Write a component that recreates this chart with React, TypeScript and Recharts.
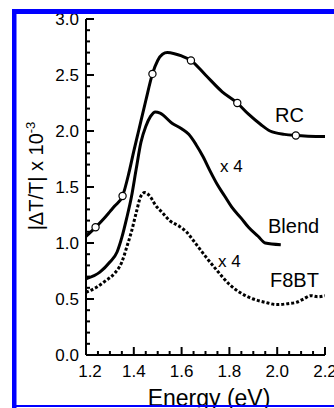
import { ComposedChart, Line, Scatter, XAxis, YAxis } from "recharts";

// energy (eV) / |dT/T| x 10^-3
const rcE = [1.2, 1.24, 1.28, 1.3, 1.32, 1.353, 1.38, 1.4, 1.42, 1.45, 1.478, 1.5, 1.52, 1.54, 1.57, 1.6, 1.639, 1.7, 1.77, 1.833, 1.88, 1.93, 1.97, 2.03, 2.078, 2.2];
const rcV = [1.06, 1.14, 1.23, 1.28, 1.33, 1.42, 1.63, 1.82, 2.0, 2.27, 2.51, 2.63, 2.685, 2.7, 2.69, 2.67, 2.63, 2.5, 2.35, 2.25, 2.15, 2.06, 2.0, 1.97, 1.96, 1.95];

const rcMarkE = [1.24, 1.353, 1.478, 1.639, 1.833, 2.078];
const rcMarkV = [1.14, 1.42, 2.51, 2.63, 2.25, 1.96];

const blendE = [1.2, 1.258, 1.3, 1.33, 1.35, 1.37, 1.39, 1.41, 1.43, 1.45, 1.47, 1.49, 1.51, 1.56, 1.6, 1.63, 1.66, 1.69, 1.72, 1.75, 1.78, 1.81, 1.85, 1.88, 1.92, 1.95, 2.015];
const blendV = [0.68, 0.74, 0.83, 0.92, 1.05, 1.22, 1.41, 1.66, 1.9, 2.04, 2.13, 2.17, 2.16, 2.07, 2.02, 1.97, 1.88, 1.77, 1.64, 1.52, 1.42, 1.32, 1.22, 1.14, 1.06, 1.0, 0.985];

const f8btE = [1.2, 1.24, 1.28, 1.32, 1.35, 1.37, 1.39, 1.41, 1.43, 1.446, 1.47, 1.49, 1.52, 1.55, 1.59, 1.62, 1.65, 1.7, 1.75, 1.8, 1.85, 1.9, 1.95, 2.0, 2.05, 2.08, 2.11, 2.14, 2.17, 2.2];
const f8btV = [0.56, 0.6, 0.66, 0.73, 0.83, 0.96, 1.1, 1.27, 1.42, 1.45, 1.41, 1.34, 1.27, 1.2, 1.15, 1.1, 1.02, 0.88, 0.75, 0.63, 0.55, 0.5, 0.47, 0.45, 0.46, 0.47, 0.5, 0.53, 0.52, 0.53];

const xTicks = [1.2, 1.25, 1.3, 1.35, 1.4, 1.45, 1.5, 1.55, 1.6, 1.65, 1.7, 1.75, 1.8, 1.85, 1.9, 1.95, 2.0, 2.05, 2.1, 2.15, 2.2];
const xMajor = [1.2, 1.4, 1.6, 1.8, 2.0, 2.2];
const xLabels = ["1.2", "1.4", "1.6", "1.8", "2.0", "2.2"];

const yTicks = [0, 0.1, 0.2, 0.3, 0.4, 0.5, 0.6, 0.7, 0.8, 0.9, 1.0, 1.1, 1.2, 1.3, 1.4, 1.5, 1.6, 1.7, 1.8, 1.9, 2.0, 2.1, 2.2, 2.3, 2.4, 2.5, 2.6, 2.7, 2.8, 2.9, 3.0];
const yMajor = [0, 0.5, 1.0, 1.5, 2.0, 2.5, 3.0];
const yLabels = ["0.0", "0.5", "1.0", "1.5", "2.0", "2.5", "3.0"];

const toRows = (es: number[], vs: number[]) => es.map((e, i) => ({ e, v: vs[i] }));
const rc = toRows(rcE, rcV);
const rcMarks = toRows(rcMarkE, rcMarkV);
const blend = toRows(blendE, blendV);
const f8bt = toRows(f8btE, f8btV);

const FONT = '"Liberation Sans", Arial, Helvetica, sans-serif';
const MAJOR = 8;
const MINOR = 4;

const idx = (list: number[], v: number) => list.findIndex((m) => Math.abs(m - v) < 1e-6);

const BottomTick = (props: any) => {
  const { x, y, payload } = props;
  const i = idx(xMajor, payload.value);
  return (
    <g>
      <line x1={x} y1={y} x2={x} y2={y - (i >= 0 ? MAJOR : MINOR)} stroke="#000" strokeWidth={2} />
      {i >= 0 && (
        <text x={x + (i === 0 ? 4 : 0)} y={y + 22} textAnchor="middle" fontSize={17} fontFamily={FONT} fill="#000">
          {xLabels[i]}
        </text>
      )}
    </g>
  );
};

const TopTick = (props: any) => {
  const { x, y, payload } = props;
  const major = idx(xMajor, payload.value) >= 0;
  return <line x1={x} y1={y} x2={x} y2={y + (major ? MAJOR : MINOR)} stroke="#000" strokeWidth={2} />;
};

const LeftTick = (props: any) => {
  const { x, y, payload } = props;
  const i = idx(yMajor, payload.value);
  return (
    <g>
      <line x1={x} y1={y} x2={x + (i >= 0 ? MAJOR : MINOR)} y2={y} stroke="#000" strokeWidth={2} />
      {i >= 0 && (
        <text x={x - 7} y={y} dy="0.36em" textAnchor="end" fontSize={17} fontFamily={FONT} fill="#000">
          {yLabels[i]}
        </text>
      )}
    </g>
  );
};

const RightTick = (props: any) => {
  const { x, y, payload } = props;
  const major = idx(yMajor, payload.value) >= 0;
  return <line x1={x} y1={y} x2={x - (major ? MAJOR : MINOR)} y2={y} stroke="#000" strokeWidth={2} />;
};

const OpenCircle = (props: any) => (
  <circle cx={props.cx} cy={props.cy} r={3.6} fill="#fff" stroke="#000" strokeWidth={1.2} />
);

const textStyle = { fontFamily: FONT, fill: "#000" };

export default function App() {
  return (
    <div style={{ position: "fixed", left: 0, top: 0, width: 334, height: 408, background: "#fff", overflow: "hidden" }}>
      <ComposedChart width={334} height={408} margin={{ top: 19, right: 9, bottom: 0, left: 0 }}>
        <XAxis
          type="number"
          dataKey="e"
          domain={[1.2, 2.2]}
          ticks={xTicks}
          interval={0}
          allowDataOverflow
          height={53}
          tickSize={0}
          tickMargin={0}
          tickLine={false}
          axisLine={{ stroke: "#000", strokeWidth: 2 }}
          tick={<BottomTick />}
        />
        <XAxis
          xAxisId="top"
          orientation="top"
          type="number"
          dataKey="e"
          domain={[1.2, 2.2]}
          ticks={xTicks}
          interval={0}
          allowDataOverflow
          height={0}
          tickSize={0}
          tickMargin={0}
          tickLine={false}
          axisLine={{ stroke: "#000", strokeWidth: 2 }}
          tick={<TopTick />}
        />
        <YAxis
          type="number"
          domain={[0, 3]}
          ticks={yTicks}
          interval={0}
          allowDataOverflow
          width={86}
          tickSize={0}
          tickMargin={0}
          tickLine={false}
          axisLine={{ stroke: "#000", strokeWidth: 2 }}
          tick={<LeftTick />}
        />
        <YAxis
          yAxisId="right"
          orientation="right"
          type="number"
          domain={[0, 3]}
          ticks={yTicks}
          interval={0}
          allowDataOverflow
          width={0}
          tickSize={0}
          tickMargin={0}
          tickLine={false}
          axisLine={{ stroke: "#000", strokeWidth: 2 }}
          tick={<RightTick />}
        />
        <Line data={f8bt} dataKey="v" type="monotone" stroke="#000" strokeWidth={3} strokeDasharray="3 2" dot={false} activeDot={false} isAnimationActive={false} />
        <Line data={blend} dataKey="v" type="monotone" stroke="#000" strokeWidth={3} dot={false} activeDot={false} isAnimationActive={false} />
        <Line data={rc} dataKey="v" type="monotone" stroke="#000" strokeWidth={3} dot={false} activeDot={false} isAnimationActive={false} />
        <Scatter data={rcMarks} dataKey="v" shape={<OpenCircle />} isAnimationActive={false} />
      </ComposedChart>

      {/* labels and the blue frame sit over the chart */}
      <svg width={334} height={408} style={{ position: "absolute", left: 0, top: 0, pointerEvents: "none" }}>
        <text x={275} y={122} fontSize={20} {...textStyle}>RC</text>
        <text x={220} y={172} fontSize={17} {...textStyle}>x 4</text>
        <text x={268} y={233} fontSize={20} {...textStyle}>Blend</text>
        <text x={218} y={267} fontSize={17} {...textStyle}>x 4</text>
        <text x={270} y={287} fontSize={20} {...textStyle}>F8BT</text>
        <text transform="translate(43,176) rotate(-90)" textAnchor="middle" fontSize={20} {...textStyle}>
          |ΔT/T| x 10<tspan dy={-8} fontSize={13}>-3</tspan>
        </text>
        <text x={209} y={406} textAnchor="middle" fontSize={23} {...textStyle}>Energy (eV)</text>
        <rect x={12} y={9} width={322} height={5} fill="#0000ff" />
        <rect x={12} y={9} width={4.5} height={399} fill="#0000ff" />
        <rect x={12} y={405} width={322} height={2} fill="#0000ff" />
      </svg>
    </div>
  );
}
